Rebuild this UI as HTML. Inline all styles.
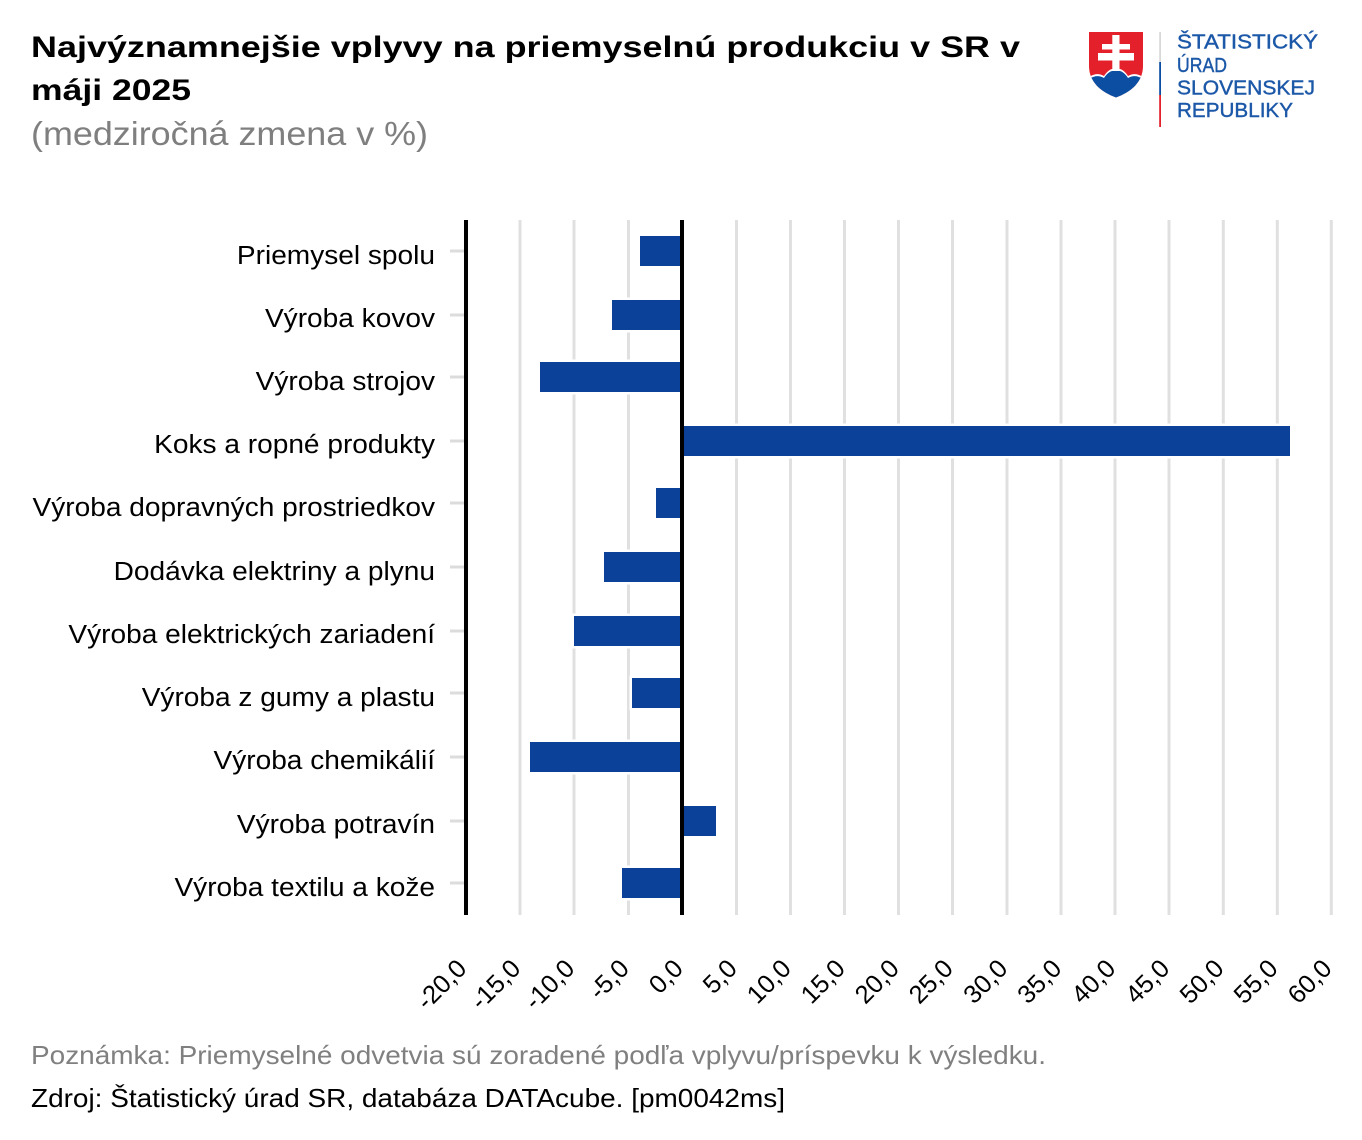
<!DOCTYPE html>
<html>
<head>
<meta charset="utf-8">
<style>
  html, body { margin: 0; padding: 0; background: #ffffff; }
  svg { display: block; }
  text { font-family: "Liberation Sans", Arial, sans-serif; }
</style>
</head>
<body>
<svg width="1362" height="1140" viewBox="0 0 1362 1140" xmlns="http://www.w3.org/2000/svg">
  <rect x="0" y="0" width="1362" height="1140" fill="#ffffff"/>

  <!-- Title -->
  <text x="31" y="57" font-size="30" font-weight="bold" fill="#000" textLength="989" lengthAdjust="spacingAndGlyphs">Najvýznamnejšie vplyvy na priemyselnú produkciu v SR v</text>
  <text x="31" y="100" font-size="30" font-weight="bold" fill="#000" textLength="160" lengthAdjust="spacingAndGlyphs">máji 2025</text>
  <text x="31" y="145" font-size="33" fill="#7f7f7f" textLength="397" lengthAdjust="spacingAndGlyphs">(medziročná zmena v %)</text>

  <!-- Logo -->
  <defs>
    <clipPath id="shieldClip">
      <path d="M1089 32 H1143 V66 C1143 82 1131 92 1116 97.5 C1101 92 1089 82 1089 66 Z"/>
    </clipPath>
  </defs>
  <path d="M1089 32 H1143 V66 C1143 82 1131 92 1116 97.5 C1101 92 1089 82 1089 66 Z" fill="#e4202b"/>
  <g clip-path="url(#shieldClip)">
    <path d="M1086 79 Q1096 71 1104 76 Q1109 68 1116 68.5 Q1123 68 1128 76 Q1136 71 1146 79 V102 H1086 Z" fill="#ffffff"/>
    <path d="M1086 81 Q1096 73 1104 78 Q1109 70 1116 70.5 Q1123 70 1128 78 Q1136 73 1146 81 V102 H1086 Z" fill="#0b4ea2"/>
  </g>
  <rect x="1112.3" y="35" width="7.2" height="36" fill="#ffffff"/>
  <rect x="1102" y="44" width="28" height="5.5" fill="#ffffff"/>
  <rect x="1098" y="53" width="36" height="7.5" fill="#ffffff"/>

  <rect x="1159.2" y="32" width="1.8" height="30" fill="#d8d8d8"/>
  <rect x="1159.2" y="62" width="1.8" height="33" fill="#0b4ea2"/>
  <rect x="1159.2" y="95" width="1.8" height="32" fill="#e4202b"/>

  <g fill="#1c58a8" font-size="20" stroke="#1c58a8" stroke-width="0.4">
    <text x="1177" y="48.5" textLength="141" lengthAdjust="spacingAndGlyphs">ŠTATISTICKÝ</text>
    <text x="1177" y="72" textLength="50" lengthAdjust="spacingAndGlyphs">ÚRAD</text>
    <text x="1177" y="94.5" textLength="138" lengthAdjust="spacingAndGlyphs">SLOVENSKEJ</text>
    <text x="1177" y="117" textLength="116" lengthAdjust="spacingAndGlyphs">REPUBLIKY</text>
  </g>

  <!-- Gridlines -->
  <g stroke="#e0e0e0" stroke-width="3">
    <line x1="520" y1="220" x2="520" y2="915"/>
    <line x1="574" y1="220" x2="574" y2="915"/>
    <line x1="628.5" y1="220" x2="628.5" y2="915"/>
    <line x1="736.5" y1="220" x2="736.5" y2="915"/>
    <line x1="790.5" y1="220" x2="790.5" y2="915"/>
    <line x1="844.5" y1="220" x2="844.5" y2="915"/>
    <line x1="898.5" y1="220" x2="898.5" y2="915"/>
    <line x1="952.5" y1="220" x2="952.5" y2="915"/>
    <line x1="1007" y1="220" x2="1007" y2="915"/>
    <line x1="1061" y1="220" x2="1061" y2="915"/>
    <line x1="1115" y1="220" x2="1115" y2="915"/>
    <line x1="1169" y1="220" x2="1169" y2="915"/>
    <line x1="1223.3" y1="220" x2="1223.3" y2="915"/>
    <line x1="1277.3" y1="220" x2="1277.3" y2="915"/>
    <line x1="1331.3" y1="220" x2="1331.3" y2="915"/>
  </g>

  <!-- Y tick marks -->
  <g fill="#dcdcdc">
    <rect x="450" y="249.5" width="15" height="3"/>
    <rect x="450" y="313.5" width="15" height="3"/>
    <rect x="450" y="375.5" width="15" height="3"/>
    <rect x="450" y="439.5" width="15" height="3"/>
    <rect x="450" y="501.5" width="15" height="3"/>
    <rect x="450" y="565.5" width="15" height="3"/>
    <rect x="450" y="629.5" width="15" height="3"/>
    <rect x="450" y="691.5" width="15" height="3"/>
    <rect x="450" y="755.5" width="15" height="3"/>
    <rect x="450" y="819.5" width="15" height="3"/>
    <rect x="450" y="881.5" width="15" height="3"/>
  </g>

  <!-- Bars: white halo -->
  <g fill="#ffffff">
    <rect x="637.5" y="233.5" width="47" height="35"/>
    <rect x="609.5" y="297.5" width="75" height="35"/>
    <rect x="537.5" y="359.5" width="147" height="35"/>
    <rect x="679.5" y="423.5" width="613" height="35"/>
    <rect x="653.5" y="485.5" width="31" height="35"/>
    <rect x="601.5" y="549.5" width="83" height="35"/>
    <rect x="571.5" y="613.5" width="113" height="35"/>
    <rect x="629.5" y="675.5" width="55" height="35"/>
    <rect x="527.5" y="739.5" width="157" height="35"/>
    <rect x="679.5" y="803.5" width="39" height="35"/>
    <rect x="619.5" y="865.5" width="65" height="35"/>
  </g>
  <!-- Bars -->
  <g fill="#0b4198">
    <rect x="640" y="236" width="42" height="30"/>
    <rect x="612" y="300" width="70" height="30"/>
    <rect x="540" y="362" width="142" height="30"/>
    <rect x="682" y="426" width="608" height="30"/>
    <rect x="656" y="488" width="26" height="30"/>
    <rect x="604" y="552" width="78" height="30"/>
    <rect x="574" y="616" width="108" height="30"/>
    <rect x="632" y="678" width="50" height="30"/>
    <rect x="530" y="742" width="152" height="30"/>
    <rect x="682" y="806" width="34" height="30"/>
    <rect x="622" y="868" width="60" height="30"/>
  </g>

  <!-- Axes -->
  <rect x="464" y="220" width="4" height="695" fill="#000"/>
  <rect x="680" y="220" width="4" height="695" fill="#000"/>

  <!-- Y labels -->
  <g transform="translate(435 0) scale(1.08 1)" font-size="26" fill="#000" text-anchor="end">
    <text x="0" y="264">Priemysel spolu</text>
    <text x="0" y="327">Výroba kovov</text>
    <text x="0" y="390">Výroba strojov</text>
    <text x="0" y="453">Koks a ropné produkty</text>
    <text x="0" y="516">Výroba dopravných prostriedkov</text>
    <text x="0" y="580">Dodávka elektriny a plynu</text>
    <text x="0" y="643">Výroba elektrických zariadení</text>
    <text x="0" y="706">Výroba z gumy a plastu</text>
    <text x="0" y="769">Výroba chemikálií</text>
    <text x="0" y="833">Výroba potravín</text>
    <text x="0" y="896">Výroba textilu a kože</text>
  </g>

  <!-- X tick labels -->
  <g font-size="25.5" fill="#000" text-anchor="end">
    <text transform="translate(468 970) rotate(-45)">-20,0</text>
    <text transform="translate(522 970) rotate(-45)">-15,0</text>
    <text transform="translate(576 970) rotate(-45)">-10,0</text>
    <text transform="translate(630.5 970) rotate(-45)">-5,0</text>
    <text transform="translate(684.5 970) rotate(-45)">0,0</text>
    <text transform="translate(738.5 970) rotate(-45)">5,0</text>
    <text transform="translate(792.5 970) rotate(-45)">10,0</text>
    <text transform="translate(846.5 970) rotate(-45)">15,0</text>
    <text transform="translate(900.5 970) rotate(-45)">20,0</text>
    <text transform="translate(954.5 970) rotate(-45)">25,0</text>
    <text transform="translate(1009 970) rotate(-45)">30,0</text>
    <text transform="translate(1063 970) rotate(-45)">35,0</text>
    <text transform="translate(1117 970) rotate(-45)">40,0</text>
    <text transform="translate(1171 970) rotate(-45)">45,0</text>
    <text transform="translate(1225.3 970) rotate(-45)">50,0</text>
    <text transform="translate(1279.3 970) rotate(-45)">55,0</text>
    <text transform="translate(1333.3 970) rotate(-45)">60,0</text>
  </g>

  <!-- Footer -->
  <text x="31" y="1064" font-size="26" fill="#808080" textLength="1015" lengthAdjust="spacingAndGlyphs">Poznámka: Priemyselné odvetvia sú zoradené podľa vplyvu/príspevku k výsledku.</text>
  <text x="31" y="1107" font-size="26" fill="#000" textLength="754" lengthAdjust="spacingAndGlyphs">Zdroj: Štatistický úrad SR, databáza DATAcube. [pm0042ms]</text>
</svg>
</body>
</html>
